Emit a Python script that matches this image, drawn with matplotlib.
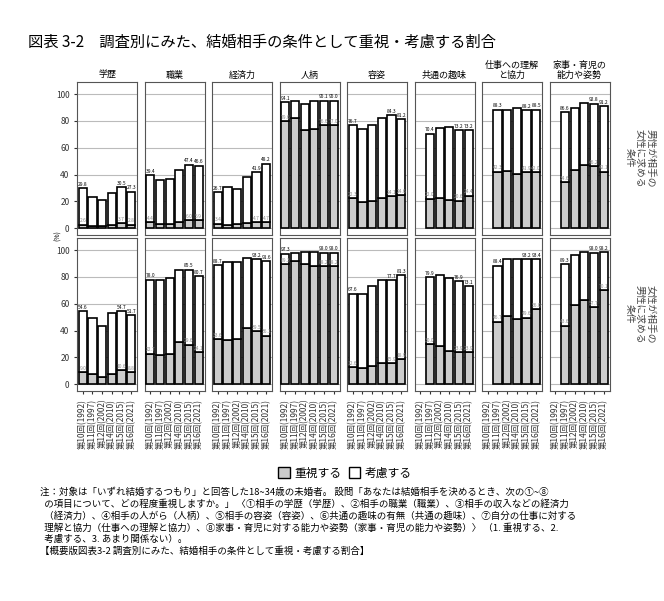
import numpy as np
import matplotlib.pyplot as plt
from matplotlib.patches import Patch

plt.rcParams['font.family'] = ['Noto Sans CJK JP', 'DejaVu Sans']

surveys = ['第10回(1992)', '第11回(1997)', '第12回(2002)', '第14回(2010)', '第15回(2015)', '第16回(2021)']
items = ['学歴', '職業', '経済力', '人柄', '容姿', '共通の趣味', '仕事への理解\nと協力', '家事・育児の\n能力や姿勢']
rows = ['男性が相手の\n女性に求める\n条件', '女性が相手の\n男性に求める\n条件']
N = np.nan

# 重視+考慮 (total) and 重視 (emphasis), male row then female row
men_total = [
    [29.8, 23.0, 21.0, 26.0, 30.5, 27.3],
    [39.4, 36.0, 37.0, 43.5, 47.4, 46.6],
    [26.7, 30.5, 29.5, 38.5, 41.9, 48.2],
    [94.1, 95.0, 92.5, 95.0, 95.1, 95.0],
    [76.7, 74.0, 77.0, 82.0, 84.3, 81.2],
    [N, 70.4, 75.0, 75.5, 73.2, 73.2],
    [N, 88.3, 88.0, 89.5, 88.2, 88.5],
    [N, 86.6, 89.5, 93.0, 92.8, 91.2],
]
men_emph = [
    [2.6, 2.0, 1.5, 2.5, 3.7, 2.8],
    [4.4, 3.0, 3.5, 5.0, 6.0, 5.9],
    [3.4, 2.5, 3.0, 4.0, 4.7, 4.7],
    [79.6, 82.5, 73.0, 74.0, 76.6, 77.0],
    [22.3, 19.5, 20.0, 22.5, 24.1, 24.6],
    [N, 22.0, 22.5, 21.0, 20.6, 24.4],
    [N, 42.3, 43.0, 40.5, 41.9, 42.0],
    [N, 34.6, 43.5, 47.5, 46.2, 42.1],
]
women_total = [
    [54.6, 49.5, 43.5, 53.0, 54.7, 51.7],
    [78.0, 77.5, 79.0, 85.5, 85.5, 80.7],
    [88.7, 91.0, 91.0, 94.0, 93.2, 91.6],
    [97.3, 97.5, 98.5, 98.5, 98.0, 98.0],
    [67.6, 67.0, 73.5, 77.5, 77.7, 81.3],
    [N, 79.9, 81.5, 79.0, 76.9, 73.1],
    [N, 88.4, 93.0, 93.0, 93.2, 93.4],
    [N, 89.3, 96.0, 98.5, 98.0, 98.2],
]
women_emph = [
    [9.0, 7.5, 5.5, 8.0, 10.6, 8.8],
    [22.7, 21.5, 22.5, 31.5, 29.6, 24.1],
    [33.6, 33.0, 33.5, 42.0, 39.5, 36.1],
    [89.3, 92.0, 90.0, 88.5, 88.2, 88.2],
    [12.6, 12.5, 14.0, 15.5, 15.9, 18.9],
    [N, 30.0, 28.5, 24.5, 23.9, 23.9],
    [N, 46.7, 51.0, 49.0, 49.6, 56.0],
    [N, 43.6, 59.0, 63.0, 57.7, 70.1],
]

W, H = 664, 601
fig = plt.figure(figsize=(W / 100, H / 100), dpi=100)
fig.text(28 / W, 1 - 42 / H, '図表 3-2　調査別にみた、結婚相手の条件として重視・考慮する割合',
         fontsize=11, va='center')

x = np.arange(len(surveys))
row_tops = [82, 238]
for r, (tot, emp) in enumerate([(men_total, men_emph), (women_total, women_emph)]):
    for c in range(len(items)):
        left = 77 + c * 67.5
        ax = fig.add_axes([left / W, 1 - (row_tops[r] + 153) / H, 60 / W, 153 / H])
        t = np.array(tot[c]); e = np.array(emp[c])
        ax.bar(x, e, width=0.85, color='#cccccc', edgecolor='black', linewidth=1.2, zorder=3)
        ax.bar(x, t - e, bottom=e, width=0.85, color='white', edgecolor='black', linewidth=1.2, zorder=3)
        ok = np.where(~np.isnan(t))[0]
        for i in [ok[0], ok[-2], ok[-1]]:
            ax.text(x[i], t[i] + 1, f'{t[i]:.1f}', fontsize=3.5, ha='center', va='bottom', zorder=4)
            ax.text(x[i], e[i] + 1, f'{e[i]:.1f}', fontsize=3.5, ha='center', va='bottom',
                    color='#888888', zorder=4)
        ax.set_xlim(-0.6, 5.6)
        ax.set_ylim(-5, 109)
        ax.set_yticks([0, 20, 40, 60, 80, 100])
        ax.grid(axis='y', color='#bbbbbb', linewidth=0.8, zorder=0)
        for s in ax.spines.values():
            s.set_color('#555555')
        ax.tick_params(length=2, labelsize=6, colors='#333333')
        if c > 0:
            ax.tick_params(labelleft=False, left=False)
        ax.set_xticks(x)
        if r == 0:
            ax.set_xticklabels([])
            ax.tick_params(bottom=False)
            ax.set_title(items[c], fontsize=6.5, pad=3, linespacing=1.1)
        else:
            ax.set_xticklabels(surveys, rotation=90, fontsize=6)
    fig.text(640 / W, 1 - (row_tops[r] + 76) / H, rows[r], rotation=-90, fontsize=7,
             ha='center', va='center', color='#444444', linespacing=1.1)

fig.text(58 / W, 1 - 236 / H, '(%)', fontsize=5, rotation=90, ha='center', va='center')

fig.legend(handles=[Patch(facecolor='#cccccc', edgecolor='black', label='重視する'),
                    Patch(facecolor='white', edgecolor='black', label='考慮する')],
           loc='center', bbox_to_anchor=(345 / W, 1 - 473 / H), ncol=2, frameon=False,
           fontsize=8.5, handlelength=1, handleheight=1, columnspacing=0.6, handletextpad=0.4)

note = ('注：対象は「いずれ結婚するつもり」と回答した18~34歳の未婚者。 設問「あなたは結婚相手を決めるとき、次の①~⑧\n'
        '  の項目について、どの程度重視しますか。」 〈①相手の学歴（学歴）、②相手の職業（職業）、③相手の収入などの経済力\n'
        '  （経済力）、④相手の人がら（人柄）、⑤相手の容姿（容姿）、⑥共通の趣味の有無（共通の趣味）、⑦自分の仕事に対する\n'
        '  理解と協力（仕事への理解と協力）、⑧家事・育児に対する能力や姿勢（家事・育児の能力や姿勢）〉 （1. 重視する、2.\n'
        '  考慮する、3. あまり関係ない）。\n'
        '【概要版図表3-2 調査別にみた、結婚相手の条件として重視・考慮する割合】')
fig.text(40 / W, 1 - 487 / H, note, fontsize=6.8, va='top', linespacing=1.3)

fig.savefig('out.png', dpi=100)
